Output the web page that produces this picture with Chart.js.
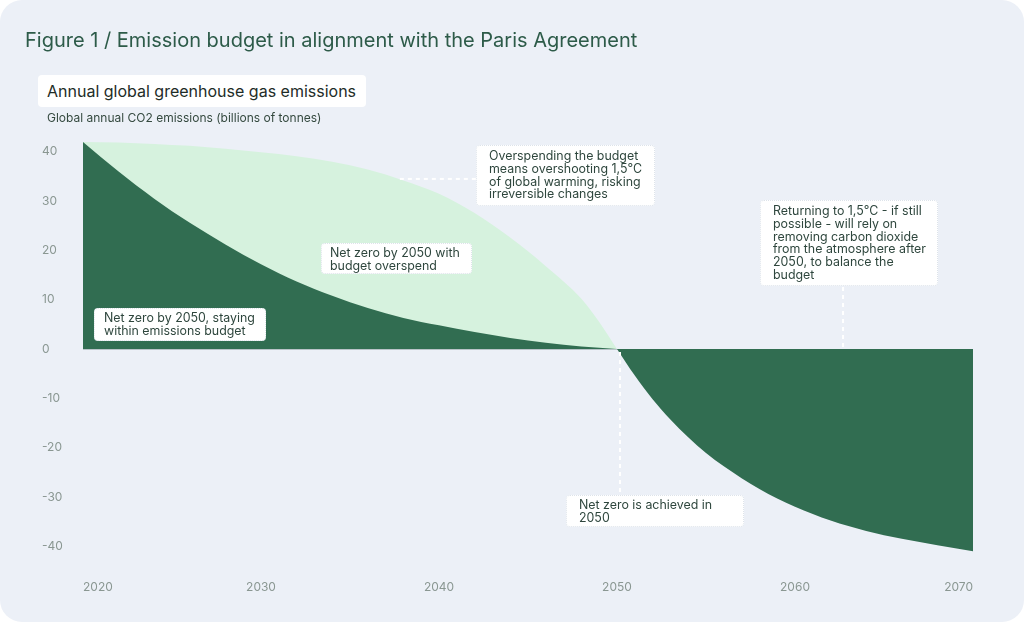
<!DOCTYPE html>
<html>
<head>
<meta charset="utf-8">
<script src="https://cdn.jsdelivr.net/npm/chart.js@4.4.1/dist/chart.umd.min.js"></script>
<style>
  html, body { margin: 0; padding: 0; background: #ffffff; }
  #card { position: relative; width: 1024px; height: 622px; background: #ecf0f7; border-radius: 22px; overflow: hidden; font-family: Inter, "Noto Sans", sans-serif; }
  #chart { position: absolute; left: 0; top: 0; }
  .txt { position: absolute; white-space: nowrap; }
  #title { left: 25px; top: 27px; font-size: 20px; line-height: 26px; color: #2d5b49; letter-spacing: 0px; }
  #sub { left: 38px; top: 75px; width: 328px; height: 32px; background: #fff; border-radius: 4px; box-sizing: border-box; padding-left: 9px; font-size: 16px; line-height: 32px; color: #1e2c27; }
  #ytitle { left: 47px; top: 110px; font-size: 12px; line-height: 16px; color: #34493f; }
  .note { position: absolute; background: #fff; border-radius: 4px; border: 1px dotted #dde3ea; box-sizing: border-box; font-size: 12.4px; line-height: 12.8px; color: #2e463d; white-space: nowrap; }
</style>
</head>
<body>
<div id="card">
  <canvas id="chart" width="1024" height="622"></canvas>
  <div class="txt" id="title">Figure 1 / Emission budget in alignment with the Paris Agreement</div>
  <div class="txt" id="sub">Annual global greenhouse gas emissions</div>
  <div class="txt" id="ytitle">Global annual CO2 emissions (billions of tonnes)</div>
  <div class="note" style="left:94px;top:308px;width:172px;height:33px;padding:3px 0 0 9px;">Net zero by 2050, staying<br>within emissions budget</div>
  <div class="note" style="left:321px;top:243px;width:151px;height:31px;padding:3px 0 0 8px;">Net zero by 2050 with<br>budget overspend</div>
  <div class="note" style="left:476px;top:145px;width:179px;height:61px;padding:4px 0 0 12px;">Overspending the budget<br>means overshooting 1,5°C<br>of global warming, risking<br>irreversible changes</div>
  <div class="note" style="left:760px;top:200px;width:178px;height:86px;padding:4px 0 0 12px;">Returning to 1,5°C - if still<br>possible - will rely on<br>removing carbon dioxide<br>from the atmosphere after<br>2050, to balance the<br>budget</div>
  <div class="note" style="left:566px;top:495px;width:178px;height:32px;padding:3px 0 0 12px;">Net zero is achieved in<br>2050</div>
</div>
<script>
// ---- data ----
const withinYears  = [2020, 2022, 2024, 2026, 2028, 2030, 2032, 2034, 2036, 2038, 2040, 2042, 2044, 2046, 2048, 2050];
const withinValues = [42, 36, 30.5, 25.6, 21.2, 17.2, 13.7, 10.8, 8.3, 6.3, 4.8, 3.45, 2.25, 1.25, 0.5, 0];

const overspendYears  = [2020, 2022, 2024, 2026, 2028, 2030, 2032, 2034, 2036, 2038, 2040, 2042, 2044, 2046, 2048, 2049, 2050];
const overspendValues = [42, 41.9, 41.6, 41.2, 40.6, 39.9, 39.1, 38, 36.4, 34.2, 31.5, 27.6, 22.6, 16.8, 10.2, 5.5, 0];

const removalYears  = [2050, 2051, 2052, 2053, 2054, 2055, 2056, 2058, 2060, 2062, 2064, 2066, 2068, 2070];
const removalValues = [0, -5.4, -10.2, -14.3, -17.9, -21.1, -23.8, -28.4, -32, -34.8, -36.9, -38.5, -39.8, -41];

const yTicks = [40, 30, 20, 10, 0, -10, -20, -30, -40];
const xTicks = [2020, 2030, 2040, 2050, 2060, 2070];

// annotation anchors in data units
const overshootAnchor = { year: 2037.8, value: 34.5 };
const netZeroAnchor   = { year: 2050, value: 0 };
const returnAnchor    = { year: 2062.7, value: 0 };

const DARK = '#316d51';
const LIGHT = '#d6f2de';

const pts = (xs, ys) => xs.map((x, i) => ({ x: x, y: ys[i] }));

const leaderPlugin = {
  id: 'leaders',
  afterDatasetsDraw(chart) {
    const { ctx, scales: { x, y } } = chart;
    ctx.save();
    ctx.strokeStyle = '#ffffff';
    ctx.lineWidth = 2;
    ctx.setLineDash([4, 4]);
    let px = x.getPixelForValue(overshootAnchor.year), py = y.getPixelForValue(overshootAnchor.value);
    ctx.beginPath(); ctx.moveTo(px, py); ctx.lineTo(478, py); ctx.stroke();
    px = x.getPixelForValue(netZeroAnchor.year); py = y.getPixelForValue(netZeroAnchor.value);
    ctx.beginPath(); ctx.moveTo(px + 3, py + 3); ctx.lineTo(px + 3, 496); ctx.stroke();
    px = x.getPixelForValue(returnAnchor.year); py = y.getPixelForValue(returnAnchor.value);
    ctx.beginPath(); ctx.moveTo(px, py - 2); ctx.lineTo(px, 287); ctx.stroke();
    ctx.restore();
  }
};

new Chart(document.getElementById('chart'), {
  type: 'line',
  data: {
    datasets: [
      { label: 'Net zero by 2050, staying within emissions budget', data: pts(withinYears, withinValues),
        backgroundColor: DARK, borderWidth: 0, fill: 'origin', pointRadius: 0, cubicInterpolationMode: 'monotone', order: 0 },
      { label: 'Carbon removal after 2050', data: pts(removalYears, removalValues),
        backgroundColor: DARK, borderWidth: 0, fill: 'origin', pointRadius: 0, cubicInterpolationMode: 'monotone', order: 1 },
      { label: 'Net zero by 2050 with budget overspend', data: pts(overspendYears, overspendValues),
        backgroundColor: LIGHT, borderWidth: 0, fill: 'origin', pointRadius: 0, cubicInterpolationMode: 'monotone', order: 2 }
    ]
  },
  options: {
    responsive: false,
    animation: false,
    devicePixelRatio: 1,
    layout: { padding: { left: 42, right: 51, top: 137, bottom: 0 } },
    plugins: { legend: { display: false }, tooltip: { enabled: false }, title: { display: false } },
    scales: {
      x: {
        type: 'linear', min: 2020, max: 2070,
        afterBuildTicks: s => { s.ticks = xTicks.map(v => ({ value: v })); },
        afterFit: s => { s.height = 61; },
        grid: { display: false, drawTicks: false },
        border: { display: false },
        ticks: { align: 'inner', padding: 19, color: '#8a9792', font: { family: 'Inter', size: 12 }, callback: v => String(v) }
      },
      y: {
        type: 'linear', min: -43, max: 43,
        afterBuildTicks: s => { s.ticks = yTicks.map(v => ({ value: v })); },
        afterFit: s => { s.width = 41; },
        grid: { drawTicks: false, color: c => (c.tick && c.tick.value === 0) ? '#b9c3c8' : 'rgba(0,0,0,0)', lineWidth: 1 },
        border: { display: false },
        ticks: { crossAlign: 'far', padding: 10, color: '#8a9792', font: { family: 'Inter', size: 12 } }
      }
    }
  },
  plugins: [leaderPlugin]
});
</script>
</body>
</html>
